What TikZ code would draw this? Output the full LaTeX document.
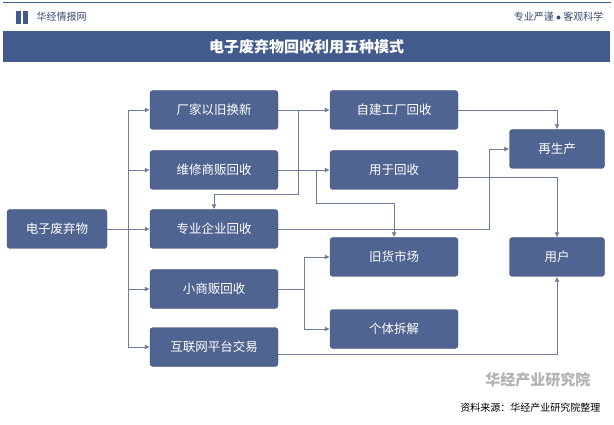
\documentclass[tikz,border=0pt]{standalone}
\usepackage{fontspec}
\setmainfont{Noto Sans CJK SC}
\usetikzlibrary{positioning, arrows.meta}
\definecolor{boxblue}{RGB}{80,100,146}
\definecolor{barblue}{RGB}{66,90,140}
\definecolor{linegray}{RGB}{110,125,155}

\begin{document}
\begin{tikzpicture}
        [
          x=1pt, y=-1pt,
          stage/.style={draw=boxblue!80!black, fill=boxblue, rounded corners=3pt,
            text=white, font=\fontsize{12.5}{14}\selectfont,
            minimum width=128pt, minimum height=39pt, inner sep=0pt},
          small/.style={stage, minimum width=95pt},
          flow/.style={draw=linegray, line width=0.8pt, -{Latex[length=5pt,width=5pt]}},
          link/.style={draw=linegray, line width=0.8pt}
        ]
        \useasboundingbox (0,0) rectangle (614,425);
        % header
        \draw[barblue, line width=1pt] (3,3) -- (611,3);
        \fill[barblue] (16,11) rectangle (21,24);
        \fill[barblue] (23,11) rectangle (28,24);
        \node[anchor=west, text=barblue!80!black, font=\fontsize{10}{12}\selectfont] (site) at (33,17) {华经情报网};
        \node[anchor=east, text=barblue!80!black, font=\fontsize{10}{12}\selectfont] (motto) at (607,17) {专业严谨 $\bullet$ 客观科学};
        \fill[barblue] (3,31) rectangle (610,62);
        \node[text=white, font=\bfseries\fontsize{15}{17}\selectfont] (title) at (306.5,47) {电子废弃物回收利用五种模式};
        % boxes
        \node[stage, minimum width=100pt] (src) at (57,229) {电子废弃物};
        \node[stage] (a1) at (214,110) {厂家以旧换新};
        \node[stage] (a2) at (214,170) {维修商贩回收};
        \node[stage] (a3) at (214,229) {专业企业回收};
        \node[stage] (a4) at (214,289) {小商贩回收};
        \node[stage] (a5) at (214,347) {互联网平台交易};
        \node[stage] (b1) at (394,110) {自建工厂回收};
        \node[stage] (b2) at (394,170) {用于回收};
        \node[stage] (b3) at (394,257) {旧货市场};
        \node[stage] (b4) at (394,329) {个体拆解};
        \node[small] (c1) at (557,149) {再生产};
        \node[small] (c2) at (557,257) {用户};
        % left trunk
        \coordinate (trunk) at (128,229);
        \draw[link] (src) -- (trunk);
        \foreach \n in {a1,a2,a3,a4,a5} {
            \draw[flow] (trunk) |- (\n.west);
        }
        % middle links
        \draw[flow] (a1) -- (b1);
        \draw[flow] (a1.east) -| (298,194) -| (a3.north);
        \draw[flow] (a2) -- (b2);
        \draw[flow] (a2.east) -| (316,203) -| (b3.north);
        \draw[flow] (a4.east) -| (304,257) -- (b3.west);
        \draw[flow] (304,289) |- (b4.west);
        \draw[flow] (a3.east) -| (489,149) -- (c1.west);
        % right links
        \draw[flow] (b1.east) -| (c1.north);
        \draw[flow] (b2.east |- 0,177) -| (c2.north);
        \draw[flow] (a5.east |- 0,354) -| (c2.south);
        % source
        \node[anchor=east, font=\fontsize{10}{12}\selectfont] (note) at (604,408) {资料来源：华经产业研究院整理};
        \node[anchor=east, text=gray!60, font=\bfseries\fontsize{15}{17}\selectfont] (logo) at (594,380) {华经产业研究院};
      \end{tikzpicture}
\end{document}
